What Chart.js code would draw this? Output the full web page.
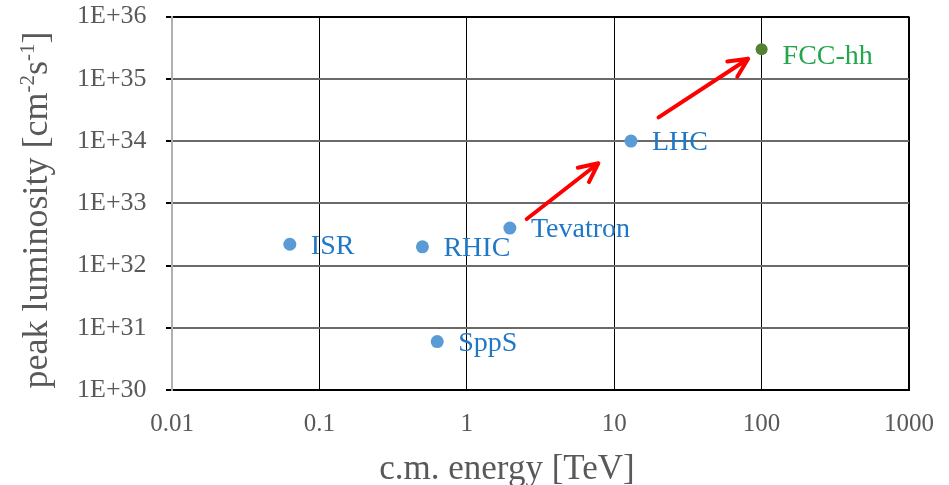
<!DOCTYPE html>
<html>
<head>
<meta charset="utf-8">
<title>Peak luminosity vs c.m. energy</title>
<script src="https://cdn.jsdelivr.net/npm/chart.js@4.4.1/dist/chart.umd.min.js"></script>
<style>
  html, body { margin: 0; padding: 0; background: #fff; }
  #wrap { width: 949px; height: 485px; position: relative; }
</style>
</head>
<body>
<div id="wrap"><canvas id="lumiChart" width="949" height="485"></canvas></div>
<script>
// Hadron colliders: c.m. energy [TeV] and peak luminosity [cm^-2 s^-1]
const machines   = ["ISR", "RHIC", "SppS", "Tevatron", "LHC"];
const energyTeV  = [0.063, 0.5, 0.63, 1.96, 13];
const peakLumi   = [2.2e32, 2e32, 6e30, 4e32, 1e34];

// Planned machine
const futureMachines = ["FCC-hh"];
const futureEnergy   = [100];
const futureLumi     = [3e35];

// Progression arrows, [energy, luminosity] at tail and head
const arrowFrom = [[2.55, 5.6e32], [20, 2.4e34]];
const arrowTo   = [[7.8, 4.4e33], [81, 2.1e35]];

// Axis ticks
const xTicks      = [0.01, 0.1, 1, 10, 100, 1000];
const xTickLabels = ["0.01", "0.1", "1", "10", "100", "1000"];
const yTicks      = [1e30, 1e31, 1e32, 1e33, 1e34, 1e35, 1e36];
const yTickLabels = ["1E+30", "1E+31", "1E+32", "1E+33", "1E+34", "1E+35", "1E+36"];

const SERIF = '"Liberation Serif", "Times New Roman", serif';
const GREY = "#595959";
const BLUE_PT = "#5B9BD5", BLUE_TXT = "#1F77C6";
const GREEN_PT = "#548235", GREEN_TXT = "#23A64C";

// point labels sit to the right of each marker
const labelDy = { "FCC-hh": 6 };

const pointLabels = {
  id: "pointLabels",
  afterDatasetsDraw(chart) {
    const ctx = chart.ctx;
    ctx.save();
    ctx.font = "28px " + SERIF;
    ctx.textBaseline = "middle";
    chart.data.datasets.forEach((ds, i) => {
      const meta = chart.getDatasetMeta(i);
      ctx.fillStyle = ds.labelColor;
      meta.data.forEach((pt, j) => {
        const name = ds.names[j];
        ctx.fillText(name, pt.x + 21, pt.y + 2 + (labelDy[name] || 0));
      });
    });
    ctx.restore();
  }
};

const arrows = {
  id: "arrows",
  afterDatasetsDraw(chart) {
    const { ctx, scales: { x, y } } = chart;
    ctx.save();
    ctx.strokeStyle = "#FF0000";
    ctx.lineWidth = 4;
    ctx.lineCap = "round";
    ctx.lineJoin = "round";
    arrowFrom.forEach((from, i) => {
      const x0 = x.getPixelForValue(from[0]), y0 = y.getPixelForValue(from[1]);
      const x1 = x.getPixelForValue(arrowTo[i][0]), y1 = y.getPixelForValue(arrowTo[i][1]);
      const a = Math.atan2(y1 - y0, x1 - x0);
      const head = 21, spread = Math.PI / 7;
      ctx.beginPath();
      ctx.moveTo(x0, y0);
      ctx.lineTo(x1, y1);
      ctx.moveTo(x1 - head * Math.cos(a - spread), y1 - head * Math.sin(a - spread));
      ctx.lineTo(x1, y1);
      ctx.lineTo(x1 - head * Math.cos(a + spread), y1 - head * Math.sin(a + spread));
      ctx.stroke();
    });
    ctx.restore();
  }
};

// axis titles drawn by hand so the units can carry superscripts
const axisTitles = {
  id: "axisTitles",
  afterDraw(chart) {
    const ctx = chart.ctx;
    ctx.save();
    ctx.fillStyle = GREY;
    ctx.textBaseline = "alphabetic";

    ctx.font = "35px " + SERIF;
    ctx.textAlign = "center";
    ctx.fillText("c.m. energy [TeV]", 507, 479);

    const parts = [
      ["peak luminosity [cm", false],
      ["-2", true],
      ["s", false],
      ["-1", true],
      ["]", false]
    ];
    const big = "36px " + SERIF, small = "21px " + SERIF;
    let total = 0;
    parts.forEach(([t, sup]) => { ctx.font = sup ? small : big; total += ctx.measureText(t).width; });
    ctx.translate(47, 210);
    ctx.rotate(-Math.PI / 2);
    ctx.textAlign = "left";
    let cx = -total / 2;
    parts.forEach(([t, sup]) => {
      ctx.font = sup ? small : big;
      ctx.fillText(t, cx, sup ? -13 : 0);
      cx += ctx.measureText(t).width;
    });
    ctx.restore();
  }
};

const edge = (n) => (c) => (c.index === 0 || c.index === n - 1);

new Chart(document.getElementById("lumiChart"), {
  type: "scatter",
  data: {
    datasets: [
      {
        names: machines,
        labelColor: BLUE_TXT,
        data: energyTeV.map((e, i) => ({ x: e, y: peakLumi[i] })),
        backgroundColor: BLUE_PT,
        borderWidth: 0,
        pointRadius: 6.5
      },
      {
        names: futureMachines,
        labelColor: GREEN_TXT,
        data: futureEnergy.map((e, i) => ({ x: e, y: futureLumi[i] })),
        backgroundColor: GREEN_PT,
        borderWidth: 0,
        pointRadius: 6
      }
    ]
  },
  options: {
    responsive: false,
    animation: false,
    layout: { padding: { top: 0, right: 40, left: 77, bottom: 0 } },
    plugins: { legend: { display: false }, tooltip: { enabled: false } },
    scales: {
      x: {
        type: "logarithmic",
        min: 0.01,
        max: 1000,
        afterBuildTicks: (s) => { s.ticks = xTicks.map(v => ({ value: v, major: true })); },
        afterFit: (s) => { s.height = 95; },
        ticks: {
          autoSkip: false,
          maxRotation: 0,
          padding: 0,
          color: GREY,
          font: { family: SERIF, size: 25 },
          callback: (v, i) => xTickLabels[i]
        },
        grid: {
          tickLength: 19,
          tickColor: "rgba(0,0,0,0)",
          color: (c) => c.index === 0 ? "rgba(0,0,0,0)" : "#000",
          lineWidth: (c) => edge(xTicks.length)(c) ? 2 : 1
        },
        border: { display: true, color: "#000", width: 2 }
      },
      y: {
        type: "logarithmic",
        min: 1e30,
        max: 1e36,
        afterBuildTicks: (s) => { s.ticks = yTicks.map(v => ({ value: v, major: true })); },
        afterFit: (s) => { s.width = 95; },
        ticks: {
          autoSkip: false,
          padding: 1,
          crossAlign: "far",
          color: GREY,
          font: { family: SERIF, size: 26 },
          callback: (v, i) => yTickLabels[i]
        },
        grid: {
          tickLength: 6,
          tickColor: "#000",
          color: (c) => c.index === yTicks.length - 1 ? "#000" : "#6a6a6a",
          lineWidth: 2
        },
        border: { display: true, color: "#b0b0b0", width: 2 }
      }
    }
  },
  plugins: [arrows, pointLabels, axisTitles]
});
</script>
</body>
</html>
